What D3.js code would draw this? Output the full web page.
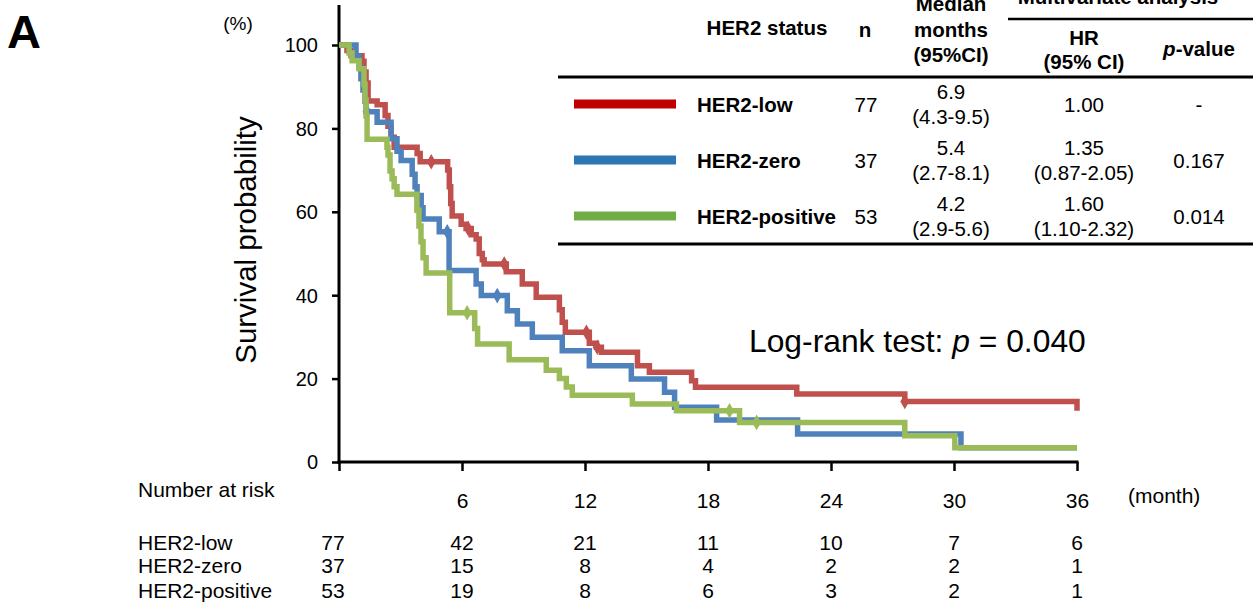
<!DOCTYPE html>
<html><head><meta charset="utf-8">
<script src="https://cdn.jsdelivr.net/npm/d3@7"></script>
<style>html,body{margin:0;padding:0;background:#fff}svg{display:block;font-family:"Liberation Sans",Arial,sans-serif}</style>
</head><body>
<svg id="c" width="1253" height="614"></svg>
<script>
// ---- data ----
const seriesNames = ["HER2-low", "HER2-zero", "HER2-positive"];
const lowTimes = [0,0.39,0.59,1.12,1.22,1.32,1.42,1.86,2.25,2.39,2.54,2.69,3.81,3.96,5.30,5.38,5.45,5.52,5.96,6.20,6.45,6.69,6.84,6.99,7.08,8.16,8.94,9.62,10.75,10.89,11.04,12.21,12.56,12.80,14.56,15.14,17.20,17.39,22.33,27.60,36.0];
const lowSurv  = [100,98.7,97.4,96.1,93.5,90.9,86.6,85.7,83.1,80.5,77.9,75.5,74.0,72.0,70.0,66.0,62.0,59.0,57.0,56.0,54.5,53.5,50.0,48.5,47.5,45.6,42.7,39.5,36.5,33.5,31.1,28.5,27.5,26.3,23.1,21.5,19.5,17.9,16.3,14.5,12.3];
const zeroTimes = [0,0.83,0.98,1.07,1.17,1.27,1.32,1.86,2.54,2.83,3.03,3.57,3.71,3.81,4.01,4.10,4.89,5.37,6.69,6.94,8.21,8.70,9.43,10.89,12.21,14.26,15.88,16.37,18.42,22.37,30.34,36.0];
const zeroSurv  = [100,97.3,94.6,91.9,89.2,86.5,84.0,81.5,77.5,74.5,72.3,69.0,66.0,63.9,61.0,58.3,55.2,45.9,42.7,39.9,36.3,33.1,29.9,26.7,23.1,19.9,16.7,13.1,10.1,6.7,3.4,3.4];
const posTimes = [0,0.49,0.64,0.98,1.22,1.27,1.32,1.37,2.34,2.39,2.49,2.59,2.69,2.83,3.80,3.90,4.00,4.10,4.25,5.40,6.62,6.76,8.30,10.11,10.75,11.09,11.38,14.31,16.46,19.54,27.60,30.04,36.0];
const posSurv  = [100,98.1,96.2,94.3,90.6,86.8,83.0,77.4,75.5,73.6,69.8,67.9,66.0,64.2,60.4,56.6,52.8,49.0,45.3,35.8,32.0,28.3,24.5,22.0,20.0,18.0,16.0,13.9,12.3,9.5,6.3,3.4,3.4];
const lowCensor  = [4.5, 6.3, 8.06, 12.07, 12.6, 27.6];
const zeroCensor = [1.37, 5.28, 7.72];
const posCensor  = [6.25, 19.05, 20.37];

const yTicks = [0,20,40,60,80,100];
const xTicks = [6,12,18,24,30,36];
const riskTimes = [0,6,12,18,24,30,36];
const riskLow  = [77,42,21,11,10,7,6];
const riskZero = [37,15,8,4,2,2,1];
const riskPos  = [53,19,8,6,3,2,1];

const tableN = ["77","37","53"];
const tableMedian = ["6.9","5.4","4.2"];
const tableMedianCI = ["(4.3-9.5)","(2.7-8.1)","(2.9-5.6)"];
const tableHR = ["1.00","1.35","1.60"];
const tableHRCI = ["","(0.87-2.05)","(1.10-2.32)"];
const tableP = ["-","0.167","0.014"];

// ---- drawing ----
const curveColors = ["#C0504D","#4F81BD","#9BBB59"];
const legendColors = ["#C00000","#2E75B6","#70AD47"];
const svg = d3.select("#c");
const x = d3.scaleLinear().domain([0,36]).range([339,1077]);
const y = d3.scaleLinear().domain([0,100]).range([462,45]);

// axes
const yAxis = d3.axisLeft(y).tickValues(yTicks).tickSize(7).tickPadding(14).tickFormat(d3.format("d"));
const gy = svg.append("g").attr("transform","translate(339,0)").call(yAxis);
gy.select(".domain").remove();
gy.selectAll(".tick line").attr("stroke","#000").attr("stroke-width",2.5);
gy.selectAll(".tick text").attr("font-size",20).attr("fill","#000").attr("font-family","Liberation Sans, Arial").attr("dy","0.34em");
svg.append("line").attr("x1",339).attr("x2",339).attr("y1",5).attr("y2",463.5).attr("stroke","#000").attr("stroke-width",3);

const xAxis = d3.axisBottom(x).tickValues([0].concat(xTicks)).tickSize(9).tickFormat(d => d===0 ? "" : d).tickPadding(22);
const gx = svg.append("g").attr("transform","translate(0,462)").call(xAxis);
gx.select(".domain").remove();
gx.selectAll(".tick line").attr("stroke","#000").attr("stroke-width",2.5);
gx.selectAll(".tick text").attr("font-size",21).attr("fill","#000").attr("font-family","Liberation Sans, Arial");
svg.append("line").attr("x1",337.5).attr("x2",1078.5).attr("y1",462).attr("y2",462).attr("stroke","#000").attr("stroke-width",3);

// curves
const series = [
  {t: lowTimes, s: lowSurv, c: lowCensor},
  {t: zeroTimes, s: zeroSurv, c: zeroCensor},
  {t: posTimes, s: posSurv, c: posCensor}
];
const line = d3.line().x(d=>x(d[0])).y(d=>y(d[1])).curve(d3.curveStepAfter);
series.forEach((sr,i)=>{
  const pts = sr.t.map((t,j)=>[t, sr.s[j]]);
  svg.append("path").attr("d", line(pts)).attr("fill","none")
    .attr("stroke", curveColors[i]).attr("stroke-width",5.5).attr("stroke-linejoin","miter");
  const sym = d3.symbol().type(d3.symbolDiamond).size(70);
  sr.c.forEach(ct=>{
    const idx = d3.bisectRight(sr.t, ct) - 1;
    svg.append("path").attr("d", sym()).attr("fill", curveColors[i])
      .attr("transform", `translate(${x(ct)},${y(sr.s[idx])})`);
  });
});

// labels
svg.append("text").attr("x",7).attr("y",48).attr("font-size",47).attr("font-weight","bold").text("A");
svg.append("text").attr("x",238).attr("y",30).attr("font-size",19).attr("text-anchor","middle").text("(%)");
svg.append("text").attr("transform","translate(256,240) rotate(-90)").attr("font-size",29.5).attr("text-anchor","middle").text("Survival probability");
svg.append("text").attr("x",1128).attr("y",503).attr("font-size",21).text("(month)");
svg.append("text").attr("x",138).attr("y",497).attr("font-size",21).text("Number at risk");

// log-rank
const lr = svg.append("text").attr("x",749).attr("y",352).attr("font-size",31.8);
lr.append("tspan").text("Log-rank test: ");
lr.append("tspan").attr("font-style","italic").text("p");
lr.append("tspan").text(" = 0.040");

// risk table
const riskRows = [riskLow, riskZero, riskPos];
const riskY = [550, 573, 598];
riskRows.forEach((row,i)=>{
  svg.append("text").attr("x",138).attr("y",riskY[i]).attr("font-size",21).text(seriesNames[i]);
  row.forEach((v,j)=>{
    svg.append("text").attr("x", x(riskTimes[j]) - (j===0?6:0)).attr("y",riskY[i])
      .attr("font-size",21).attr("text-anchor","middle").text(v);
  });
});

// top-right table
const T = svg.append("g").attr("font-size",20.5);
T.append("line").attr("x1",558).attr("x2",1253).attr("y1",77).attr("y2",77).attr("stroke","#000").attr("stroke-width",3);
T.append("line").attr("x1",558).attr("x2",1253).attr("y1",244).attr("y2",244).attr("stroke","#000").attr("stroke-width",3);
T.append("line").attr("x1",1008).attr("x2",1253).attr("y1",19).attr("y2",19).attr("stroke","#000").attr("stroke-width",2.5);
const hdr = (tx,ty,txt)=>T.append("text").attr("x",tx).attr("y",ty).attr("text-anchor","middle").attr("font-weight","bold").text(txt);
hdr(767,35,"HER2 status");
hdr(865,37,"n");
hdr(951,11,"Median");
hdr(951,37,"months");
hdr(951,62,"(95%CI)");
hdr(1118,4,"Multivariate analysis");
hdr(1084,45,"HR");
hdr(1084,69,"(95% CI)");
const pv = T.append("text").attr("x",1199).attr("y",56).attr("text-anchor","middle").attr("font-weight","bold");
pv.append("tspan").attr("font-style","italic").text("p");
pv.append("tspan").text("-value");

const rowC = [104,160,216];
seriesNames.forEach((nm,i)=>{
  const c = rowC[i];
  T.append("rect").attr("x",574).attr("y",c-4.5).attr("width",102).attr("height",9).attr("fill",legendColors[i]);
  T.append("text").attr("x",697).attr("y",c+8).attr("font-weight","bold").text(nm);
  T.append("text").attr("x",866).attr("y",c+8).attr("text-anchor","middle").text(tableN[i]);
  T.append("text").attr("x",951).attr("y",c-5).attr("text-anchor","middle").text(tableMedian[i]);
  T.append("text").attr("x",951).attr("y",c+20).attr("text-anchor","middle").text(tableMedianCI[i]);
  if (tableHRCI[i]) {
    T.append("text").attr("x",1084).attr("y",c-5).attr("text-anchor","middle").text(tableHR[i]);
    T.append("text").attr("x",1084).attr("y",c+20).attr("text-anchor","middle").text(tableHRCI[i]);
  } else {
    T.append("text").attr("x",1084).attr("y",c+8).attr("text-anchor","middle").text(tableHR[i]);
  }
  T.append("text").attr("x",1199).attr("y",c+8).attr("text-anchor","middle").text(tableP[i]);
});
</script>
</body></html>
